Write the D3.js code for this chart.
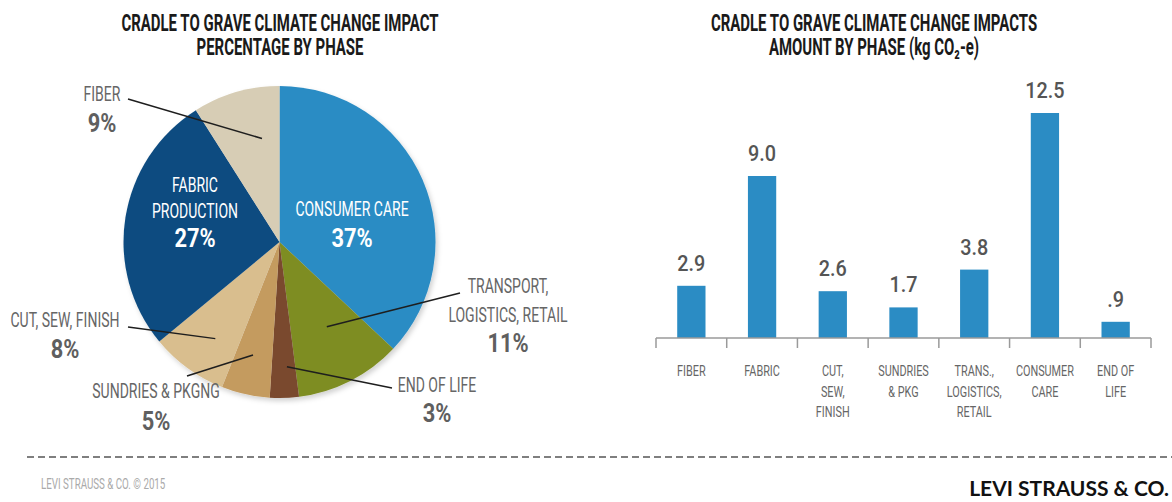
<!DOCTYPE html>
<html lang="en">
<head>
  <meta charset="UTF-8">
  <title>Cradle to grave climate change impact</title>
  <script src="https://d3js.org/d3.v7.min.js"></script>
  <style>
    body { margin: 0; background: #fff; }
    text { font-family: Roboto, "DejaVu Sans", sans-serif; }
    .title { font-weight: 700; font-size: 23px; fill: #1a1a1a; }
    .pie-name { font-size: 20px; fill: #666; }
    .pie-pct { font-size: 26px; font-weight: 700; fill: #5f5f5f; }
    .inside { fill: #fff; }
    .leader { stroke: #1e1e1e; stroke-width: 1.5px; fill: none; }
    .bar { fill: #2b8cc4; }
    .bar-val { font-size: 22px; font-weight: 500; fill: #555; }
    .axis-line { stroke: #9a9a9a; stroke-width: 1.5px; fill: none; }
    .cat { font-size: 15.5px; fill: #666; }
  </style>
</head>
<body>
<svg id="chart" width="1172" height="502"></svg>
<script>
  // pie: percentage by phase (clockwise from 12 o'clock)
  const pieNames = ["CONSUMER CARE", "TRANSPORT, LOGISTICS, RETAIL", "END OF LIFE",
                    "SUNDRIES & PKGNG", "CUT, SEW, FINISH", "FABRIC PRODUCTION", "FIBER"];
  const pieLines = [["CONSUMER CARE"], ["TRANSPORT,", "LOGISTICS, RETAIL"], ["END OF LIFE"],
                    ["SUNDRIES & PKGNG"], ["CUT, SEW, FINISH"], ["FABRIC", "PRODUCTION"], ["FIBER"]];
  const pieValues = [37, 11, 3, 5, 8, 27, 9];
  const pieColors = ["#2b8cc4", "#7e8d24", "#7a4a2e", "#c49b5f", "#d9be8e", "#0f4c80", "#d7cdb5"];

  // bars: amount by phase (kg CO2-e)
  const barCats = ["FIBER", "FABRIC", "CUT, SEW, FINISH", "SUNDRIES & PKG",
                   "TRANS., LOGISTICS, RETAIL", "CONSUMER CARE", "END OF LIFE"];
  const barLines = [["FIBER"], ["FABRIC"], ["CUT,", "SEW,", "FINISH"], ["SUNDRIES", "& PKG"],
                    ["TRANS.,", "LOGISTICS,", "RETAIL"], ["CONSUMER", "CARE"], ["END OF", "LIFE"]];
  const barValues = [2.9, 9.0, 2.6, 1.7, 3.8, 12.5, 0.9];
  const barText = ["2.9", "9.0", "2.6", "1.7", "3.8", "12.5", ".9"];

  const svg = d3.select("#chart");

  // squeeze text horizontally to imitate the condensed face of the original
  function condense(sel, k) {
    sel.each(function() {
      const w = this.getComputedTextLength();
      d3.select(this).attr("textLength", w * k).attr("lengthAdjust", "spacingAndGlyphs");
    });
    return sel;
  }

  // ---------- titles ----------
  const titleK = 0.65;
  const titles = [
    [280, 31, "CRADLE TO GRAVE CLIMATE CHANGE IMPACT"],
    [280, 55, "PERCENTAGE BY PHASE"],
    [874, 31, "CRADLE TO GRAVE CLIMATE CHANGE IMPACTS"],
    [874, 55, "AMOUNT BY PHASE (kg CO\u2082-e)"]
  ];
  titles.forEach(t => {
    svg.append("text").attr("class", "title").attr("x", t[0]).attr("y", t[1])
       .attr("text-anchor", "middle").text(t[2]).call(condense, titleK);
  });

  // ---------- pie ----------
  const cx = 279.5, cy = 242, R = 156;
  const defs = svg.append("defs");
  defs.append("filter").attr("id", "shadow").attr("x", "-10%").attr("y", "-10%")
      .attr("width", "125%").attr("height", "125%")
    .append("feDropShadow").attr("dx", 2).attr("dy", 3).attr("stdDeviation", 2.5)
      .attr("flood-color", "#000").attr("flood-opacity", 0.18);

  const pie = d3.pie().sort(null).value(d => d);
  const arcs = pie(pieValues);
  const arc = d3.arc().innerRadius(0).outerRadius(R);
  const pieG = svg.append("g").attr("transform", `translate(${cx},${cy})`);
  pieG.append("g").attr("filter", "url(#shadow)")
    .selectAll("path").data(arcs).join("path")
      .attr("d", arc)
      .attr("fill", (d, i) => pieColors[i]);

  // label layout: text centre x, first baseline, line gap, pct baseline,
  // leader outer end and inner anchor (angle offset in deg, radius)
  const pieLayout = [
    { x: 352, y: 216, gap: 0,  py: 247, inside: true },
    { x: 508, y: 293, gap: 29, py: 352, lx: 460, ly: 293, da: -2.2, r: 97 },
    { x: 437, y: 392, gap: 0,  py: 422, lx: 392, ly: 388, da: -1.6, r: 125 },
    { x: 156, y: 398, gap: 0,  py: 430, lx: 187, ly: 376, da: 0.6, r: 116 },
    { x: 65,  y: 327, gap: 0,  py: 358, lx: 128, ly: 327, da: -2.4, r: 116 },
    { x: 195, y: 192, gap: 26, py: 247, inside: true },
    { x: 102, y: 101, gap: 0,  py: 132, lx: 128, ly: 99, da: 6.6, r: 105 }
  ];

  const labG = svg.append("g");
  arcs.forEach((a, i) => {
    const L = pieLayout[i];
    if (!L.inside) {
      const ang = (a.startAngle + a.endAngle) / 2 + L.da * Math.PI / 180;
      labG.append("line").attr("class", "leader")
        .attr("x1", L.lx).attr("y1", L.ly)
        .attr("x2", cx + L.r * Math.sin(ang)).attr("y2", cy - L.r * Math.cos(ang));
    }
    pieLines[i].forEach((ln, j) => {
      labG.append("text").attr("class", "pie-name" + (L.inside ? " inside" : ""))
        .attr("x", L.x).attr("y", L.y + j * L.gap).attr("text-anchor", "middle")
        .text(ln).call(condense, 0.7);
    });
    labG.append("text").attr("class", "pie-pct" + (L.inside ? " inside" : ""))
      .attr("x", L.x).attr("y", L.py).attr("text-anchor", "middle")
      .text(a.data + "%").call(condense, 0.84);
  });

  // ---------- bars ----------
  const x = d3.scaleBand().domain(barCats).range([656, 1151]).padding(0);
  const y = d3.scaleLinear().domain([0, 12.5]).range([338, 113]);
  const barW = x.bandwidth() * 0.4;
  const barG = svg.append("g");

  barG.selectAll("rect").data(barValues).join("rect")
    .attr("class", "bar")
    .attr("x", (d, i) => x(barCats[i]) + (x.bandwidth() - barW) / 2)
    .attr("y", d => y(d))
    .attr("width", barW)
    .attr("height", d => y(0) - y(d));

  barG.selectAll("text.bar-val").data(barValues).join("text")
    .attr("class", "bar-val")
    .attr("x", (d, i) => x(barCats[i]) + x.bandwidth() / 2)
    .attr("y", d => y(d) - 15)
    .attr("text-anchor", "middle")
    .text((d, i) => barText[i])
    .call(condense, 0.9);

  // baseline with ticks on the band edges
  const edges = barCats.map(c => x(c)).concat([x.range()[1]]);
  barG.append("path").attr("class", "axis-line")
    .attr("d", `M${x.range()[0]},${y(0)}H${x.range()[1]}`);
  barG.selectAll("line.tick").data(edges).join("line")
    .attr("class", "axis-line")
    .attr("x1", d => d).attr("x2", d => d)
    .attr("y1", y(0)).attr("y2", y(0) + 10);

  barCats.forEach((c, i) => {
    barLines[i].forEach((ln, j) => {
      barG.append("text").attr("class", "cat")
        .attr("x", x(c) + x.bandwidth() / 2).attr("y", 376 + j * 20.5)
        .attr("text-anchor", "middle").text(ln).call(condense, 0.7);
    });
  });

  // ---------- footer ----------
  svg.append("line").attr("x1", 27).attr("x2", 1172).attr("y1", 457).attr("y2", 457)
     .attr("stroke", "#555").attr("stroke-width", 1.5).attr("stroke-dasharray", "7,4");
  svg.append("text").attr("x", 41).attr("y", 489)
     .style("font-size", "15px").style("fill", "#aaa")
     .text("LEVI STRAUSS & CO. © 2015").call(condense, 0.65);
  svg.append("text").attr("x", 1169).attr("y", 496).attr("text-anchor", "end")
     .style("font-family", "Lato, 'Open Sans', sans-serif").style("font-weight", 700)
     .style("font-size", "21px").style("fill", "#111")
     .text("LEVI STRAUSS & CO.");
</script>
</body>
</html>
